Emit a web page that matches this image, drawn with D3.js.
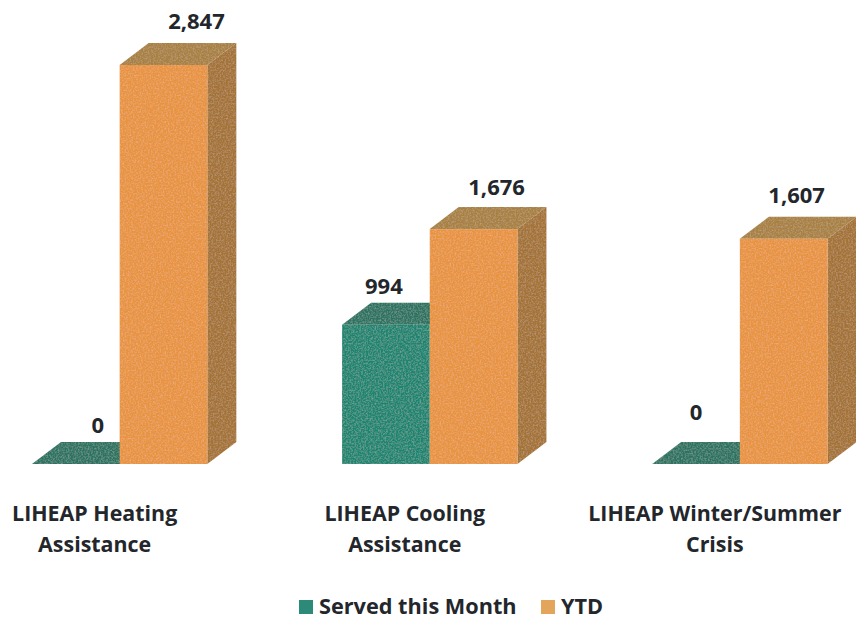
<!DOCTYPE html>
<html><head><meta charset="utf-8">
<script src="https://cdn.jsdelivr.net/npm/d3@7"></script>
<style>html,body{margin:0;padding:0;background:#fff}svg{display:block}text{font-family:"Open Sans",sans-serif;font-weight:700;fill:#23262b}</style>
</head><body><div id="chart"></div>
<script>
const categories = [["LIHEAP Heating","Assistance"],["LIHEAP Cooling","Assistance"],["LIHEAP Winter/Summer","Crisis"]];
const seriesNames = ["Served this Month","YTD"];
const servedThisMonth = [0,994,0];
const ytd = [2847,1676,1607];

const W=856,H=622,base=464,dx=29,dy=22;
const svg=d3.select("#chart").append("svg").attr("width",W).attr("height",H);
const defs=svg.append("defs");
const f=defs.append("filter").attr("id","grain").attr("x","0").attr("y","0").attr("width","1").attr("height","1");
f.append("feTurbulence").attr("type","fractalNoise").attr("baseFrequency",0.6).attr("numOctaves",2).attr("seed",4).attr("result","n");
f.append("feColorMatrix").attr("in","n").attr("type","matrix").attr("values","0 0 0 0 1  0 0 0 0 1  0 0 0 0 1  0.35 0 0 0 -0.14").attr("result","g");
f.append("feComposite").attr("in","g").attr("in2","SourceAlpha").attr("operator","in").attr("result","gc");
f.append("feMerge").selectAll("feMergeNode").data(["SourceGraphic","gc"]).enter().append("feMergeNode").attr("in",d=>d);

const x0=d3.scaleBand().domain(d3.range(categories.length)).range([32,827.5]).paddingInner(0.4346);
const x1=d3.scaleBand().domain(seriesNames).range([0,x0.bandwidth()]);
const y=d3.scaleLinear().domain([0,2847]).range([base,65]);
const colors={
 "Served this Month":{front:"#1f8571",top:"#2b7361",side:"#2b6f60"},
 "YTD":{front:"#e8933d",top:"#a8803f",side:"#a47232"}
};
const legendColors={"Served this Month":"#2c8b78","YTD":"#e3a45c"};
const line=d3.line();
// nudges of each printed value label relative to the bar's centre
const labelNudge={"Served this Month":[22,-2,0],"YTD":[33,23,13]};
const labelLift={"Served this Month":[9,9,22],"YTD":[14,12,14]};
seriesNames.forEach(s=>{
  const vals=s==="YTD"?ytd:servedThisMonth, c=colors[s];
  const g=svg.append("g").attr("filter","url(#grain)");
  vals.forEach((v,i)=>{
    const l=x0(i)+x1(s), r=l+x1.bandwidth(), t=y(v);
    if(s==="YTD"){
      g.append("path").attr("d",line([[r,t],[r+dx,t-dy],[r+dx,base-dy],[r,base]])+"Z").attr("fill",c.side);
    }
    g.append("path").attr("d",line([[l,t],[l+dx,t-dy],[r+dx,t-dy],[r,t]])+"Z").attr("fill",c.top);
    if(v>0) g.append("rect").attr("x",l).attr("y",t).attr("width",r-l).attr("height",base-t).attr("fill",c.front);
  });
});
seriesNames.forEach(s=>{
  const vals=s==="YTD"?ytd:servedThisMonth;
  vals.forEach((v,i)=>{
    svg.append("text").attr("x",x0(i)+x1(s)+x1.bandwidth()/2+labelNudge[s][i]).attr("y",y(v)-dy-labelLift[s][i])
      .attr("text-anchor","middle").attr("font-size",22).text(d3.format(",")(v));
  });
});
categories.forEach((c,i)=>{
  c.forEach((t,k)=>svg.append("text").attr("x",x0(i)+x0.bandwidth()/2-25).attr("y",521+k*31)
    .attr("text-anchor","middle").attr("font-size",21.4).text(t));
});
const legendX=[299,541];
seriesNames.forEach((s,i)=>{
  svg.append("rect").attr("x",legendX[i]).attr("y",600).attr("width",14).attr("height",14).attr("fill",legendColors[s]);
  svg.append("text").attr("x",legendX[i]+20).attr("y",614).attr("font-size",21.7).text(s);
});
</script></body></html>
